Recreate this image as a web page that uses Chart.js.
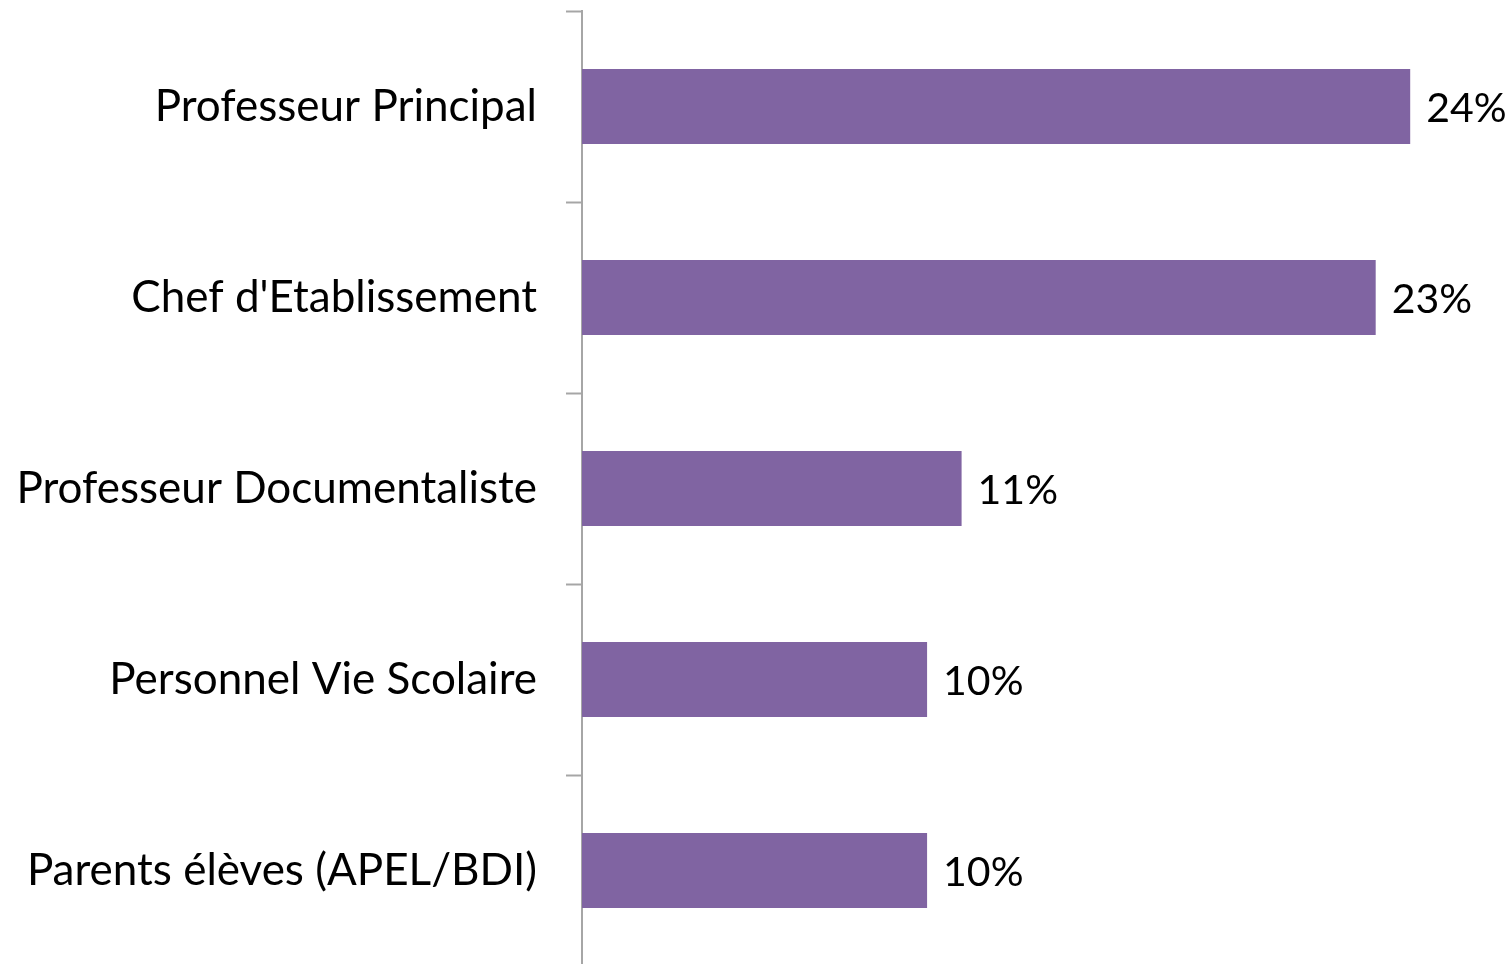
<!DOCTYPE html>
<html>
<head>
<meta charset="utf-8">
<script src="https://cdn.jsdelivr.net/npm/chart.js@4"></script>
<style>
  html, body { margin: 0; padding: 0; background: #fff; overflow: hidden; }
  #wrap { width: 1512px; height: 966px; position: relative; }
</style>
</head>
<body>
<div id="wrap"><canvas id="chart"></canvas></div>
<script>
// données
const categories = [
  'Professeur Principal',
  "Chef d'Etablissement",
  'Professeur Documentaliste',
  'Personnel Vie Scolaire',
  'Parents élèves (APEL/BDI)'
];
const values = [24, 23, 11, 10, 10];

const FONT = 'Lato, "Open Sans", sans-serif';
const barColor = '#8064a2';

// étiquettes de valeur à droite des barres
const valueLabels = {
  id: 'valueLabels',
  afterDatasetsDraw(chart) {
    const ctx = chart.ctx;
    const meta = chart.getDatasetMeta(0);
    ctx.save();
    ctx.font = '41px ' + FONT;
    ctx.fillStyle = '#000';
    ctx.textBaseline = 'middle';
    ctx.textAlign = 'left';
    meta.data.forEach((bar, i) => {
      ctx.fillText(values[i] + '%', bar.x + 16, bar.y + 2);
    });
    ctx.restore();
  }
};

new Chart(document.getElementById('chart'), {
  type: 'bar',
  data: {
    labels: categories,
    datasets: [{
      data: values,
      backgroundColor: barColor,
      barPercentage: 1,
      categoryPercentage: 0.393
    }]
  },
  options: {
    indexAxis: 'y',
    responsive: true,
    maintainAspectRatio: false,
    animation: false,
    layout: { padding: { top: 11, right: 0, bottom: 0, left: 0 } },
    plugins: {
      legend: { display: false },
      tooltip: { enabled: false }
    },
    scales: {
      x: {
        display: false,
        min: 0,
        max: 26.95
      },
      y: {
        afterFit(scale) {
          scale.width = 582;
          scale.paddingTop = 0;
          scale.paddingBottom = 0;
        },
        border: { display: true, color: '#a6a6a6', width: 2 },
        grid: {
          display: true,
          drawOnChartArea: false,
          drawTicks: true,
          tickLength: 16,
          tickWidth: 2,
          tickColor: '#a6a6a6',
          offset: true
        },
        ticks: {
          color: '#000',
          padding: 29,
          font: { family: FONT, size: 44 }
        }
      }
    }
  },
  plugins: [valueLabels]
});
</script>
</body>
</html>
